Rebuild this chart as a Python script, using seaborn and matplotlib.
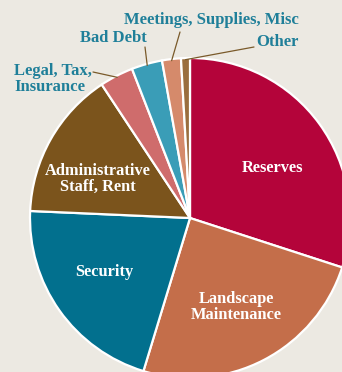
import numpy as np
import matplotlib
matplotlib.use("Agg")
import matplotlib.pyplot as plt
import seaborn as sns

# budget shares (clockwise from 12 o'clock)
categories = ["Reserves", "Landscape\nMaintenance", "Security", "Administrative\nStaff, Rent",
              "Legal, Tax,\nInsurance", "Bad Debt", "Meetings, Supplies, Misc", "Other"]
shares = [30.0, 24.7, 21.0, 15.0, 3.4, 3.1, 1.9, 0.9]
colors = ["#B4043A", "#C46E4A", "#02708E", "#7B541C", "#CF6C6C", "#3A9DB7", "#D58A6B", "#9A6E3E"]

sns.set_style("white")
plt.rcParams["font.family"] = ["Liberation Serif", "DejaVu Serif"]

W, H = 342, 372
CX, CY, R = 190, 218, 160   # pie centre / radius in pixels


def px(x, y):
    # pixel (from top-left) -> data units of the pie
    return (x - CX) / R, (CY - y) / R


bg = "#ECE9E2"
fig = plt.figure(figsize=(W / 100, H / 100), dpi=100, facecolor=bg)
ax = fig.add_axes([0, 0, 1, 1])
ax.set_facecolor(bg)

pal = sns.color_palette(colors)
wedges, _ = ax.pie(shares, colors=pal, startangle=90, counterclock=False, radius=1,
                   wedgeprops=dict(edgecolor="white", linewidth=1.6))

ax.set_xlim(-CX / R, (W - CX) / R)
ax.set_ylim(-(H - CY) / R, CY / R)
ax.set_aspect("auto")
ax.axis("off")

# labels inside the big slices
inside = {0: (272, 168), 1: (236, 307), 2: (104, 272), 3: (98, 179)}
for i, (x, y) in inside.items():
    ax.text(*px(x, y), categories[i], color="white", fontsize=11.8, fontweight="bold",
            ha="center", va="center", linespacing=1.0)

# small slices: outside labels with leader lines
teal = "#1F7F99"
line_col = "#7A5A2A"
outside = {
    4: dict(pos=(14, 79), ha="left", start=(93, 72)),
    5: dict(pos=(113, 38), ha="center", start=(145, 47)),
    6: dict(pos=(211, 20), ha="center", start=(180, 32)),
    7: dict(pos=(277, 42), ha="center", start=(254, 47)),
}
for i, o in outside.items():
    w = wedges[i]
    mid = np.deg2rad((w.theta1 + w.theta2) / 2)
    end = (0.99 * np.cos(mid), 0.99 * np.sin(mid))
    ax.text(*px(*o["pos"]), categories[i], color=teal, fontsize=12, fontweight="bold",
            ha=o["ha"], va="center", linespacing=0.95)
    sx, sy = px(*o["start"])
    ax.plot([sx, end[0]], [sy, end[1]], color=line_col, lw=0.9)

fig.savefig("out.png", dpi=100, facecolor=bg)
